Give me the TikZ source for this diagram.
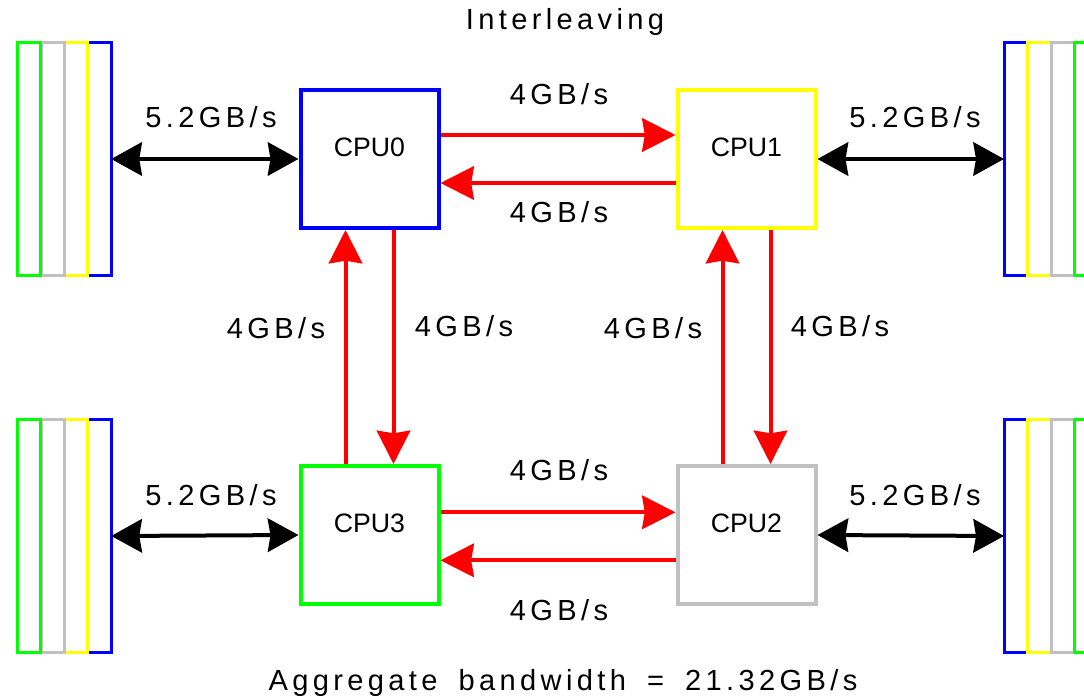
\documentclass[tikz,border=0pt]{standalone}
\usepackage{fontspec}
\setmainfont{Liberation Sans}
\newfontfamily\lblfont[LetterSpace=15]{Liberation Sans}
\usetikzlibrary{arrows.meta}
\definecolor{cgreen}{RGB}{0,255,0}
\definecolor{cgray}{RGB}{192,192,192}
\definecolor{cyellow}{RGB}{255,255,0}
\definecolor{cblue}{RGB}{0,0,255}
\definecolor{cred}{RGB}{255,0,0}
\tikzset{
  cpu/.style={draw=#1, line width=3pt, minimum width=103.5pt, minimum height=103.5pt, inner sep=0pt},
  cpulbl/.style={font=\fontsize{20}{24}\selectfont, inner sep=0pt, yshift=9pt},
  strip/.style={draw=#1, line width=2.25pt, minimum width=17.6pt, minimum height=174.75pt, inner sep=0pt, outer sep=0pt},
  lbl/.style={font=\lblfont\fontsize{21.8}{26}\selectfont, inner sep=0pt},
  redarr/.style={draw=cred, line width=3pt, -{Stealth[length=25pt, width=25pt, inset=2pt]}},
  blkarr/.style={draw=black, line width=3pt, {Stealth[length=23pt, width=25pt, inset=2pt]}-{Stealth[length=23pt, width=25pt, inset=2pt]}}
}
\begin{document}
\begin{tikzpicture}[x=0.75pt, y=-0.75pt]
\useasboundingbox (0,0) rectangle (1084,699);
\clip (0,0) rectangle (1084,699);
% memory banks left (draw right to left)
\node[strip=cblue]   (LTb) at (99.5,159) {};
\node[strip=cyellow] (LTy) at (76.25,159) {};
\node[strip=cgray]   (LTg) at (52.75,159) {};
\node[strip=cgreen]  (LTn) at (29,159) {};
\node[strip=cblue]   (LBb) at (99.5,536) {};
\node[strip=cyellow] (LBy) at (76.25,536) {};
\node[strip=cgray]   (LBg) at (52.75,536) {};
\node[strip=cgreen]  (LBn) at (29,536) {};
% memory banks right (draw left to right)
\node[strip=cblue]   (RTb) at (1015.75,159) {};
\node[strip=cyellow] (RTy) at (1039.25,159) {};
\node[strip=cgray]   (RTg) at (1063,159) {};
\node[strip=cgreen]  (RTn) at (1086.5,159) {};
\node[strip=cblue]   (RBb) at (1015.75,536) {};
\node[strip=cyellow] (RBy) at (1039.25,536) {};
\node[strip=cgray]   (RBg) at (1063,536) {};
\node[strip=cgreen]  (RBn) at (1086.5,536) {};
% CPUs
\node[cpu=cblue,   label={[cpulbl]center:CPU0}] (C0) at (369.5,159) {};
\node[cpu=cyellow, label={[cpulbl]center:CPU1}] (C1) at (746.5,159) {};
\node[cpu=cgray,   label={[cpulbl]center:CPU2}] (C2) at (746.5,535) {};
\node[cpu=cgreen,  label={[cpulbl]center:CPU3}] (C3) at (369.5,535) {};
% red links
\draw[redarr] ([yshift=18pt]C0.east) -- ([yshift=18pt]C1.west);
\draw[redarr] ([yshift=-18pt]C1.west) -- ([yshift=-18pt]C0.east);
\draw[redarr] ([yshift=17pt]C3.east) -- ([yshift=17pt]C2.west);
\draw[redarr] ([yshift=-19pt]C2.west) -- ([yshift=-19pt]C3.east);
\draw[redarr] ([xshift=-18pt]C3.north) -- ([xshift=-18pt]C0.south);
\draw[redarr] ([xshift=18pt]C0.south) -- ([xshift=18pt]C3.north);
\draw[redarr] ([xshift=-18pt]C2.north) -- ([xshift=-18pt]C1.south);
\draw[redarr] ([xshift=18pt]C1.south) -- ([xshift=18pt]C2.north);
% memory links
\draw[blkarr] (LTb.east) -- (C0.west);
\draw[blkarr] (C1.east) -- (RTb.west);
\draw[blkarr] (LBb.east) -- (C3.west);
\draw[blkarr] (C2.east) -- (RBb.west);
% labels
\node[lbl] (t1) at (211,117) {5.2GB/s};
\node[lbl] (t2) at (915,117) {5.2GB/s};
\node[lbl] (t3) at (211,495) {5.2GB/s};
\node[lbl] (t4) at (915,495) {5.2GB/s};
\node[lbl] (a1) at (559,94) {4GB/s};
\node[lbl] (a2) at (559,212) {4GB/s};
\node[lbl] (a3) at (559,470) {4GB/s};
\node[lbl] (a4) at (559,610) {4GB/s};
\node[lbl] (a5) at (276,328) {4GB/s};
\node[lbl] (a6) at (464,326) {4GB/s};
\node[lbl] (a7) at (653,328) {4GB/s};
\node[lbl] (a8) at (840,326) {4GB/s};
\node[lbl] (title) at (565,22) {Interleaving};
\node[lbl] (agg) at (563,683) {Aggregate\hspace{6.5pt} bandwidth\hspace{6.5pt} =\hspace{6.5pt} 21.32GB/s};
\end{tikzpicture}
\end{document}
